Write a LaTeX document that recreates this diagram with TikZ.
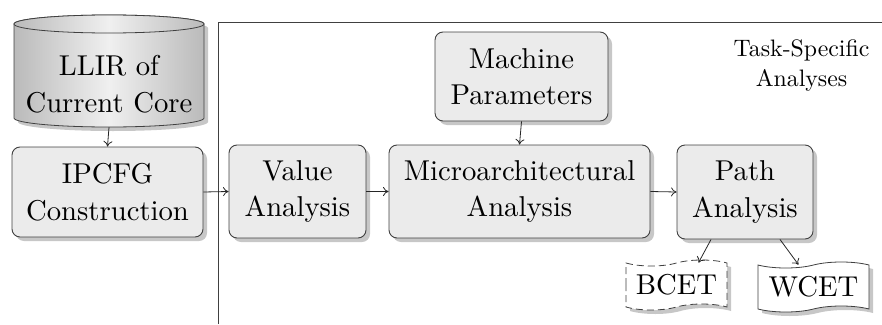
\documentclass[tikz,border=0pt]{standalone}
\usepackage{fontspec}
\setmainfont{lmroman10-regular.otf}
\usetikzlibrary{shapes.geometric,shapes.symbols,shadows,arrows.meta,calc}
\newcommand{\bigfont}{\fontsize{28.7}{36.5}\selectfont}
\newcommand{\smallerfont}{\fontsize{23.8}{30}\selectfont}
\begin{document}
\begin{tikzpicture}[x=1pt,y=-1pt,
  shadowed/.style={drop shadow={shadow xshift=4pt,shadow yshift=-4pt,fill=black!22,opacity=1}},
  box/.style={draw=black!75,line width=0.9pt,fill=black!8,rounded corners=8pt,align=center,
    font=\bigfont,inner sep=0pt,shadowed},
  doc/.style={tape,draw=black!75,line width=0.8pt,fill=white,align=center,font=\bigfont,
    inner xsep=9pt,inner ysep=4pt,minimum height=50pt,tape bend height=6pt,shadowed},
  conn/.style={draw=black!85,line width=0.8pt,-{To[length=5.5pt,width=9pt]}},
  frame/.style={draw=black!75,line width=0.8pt},
  cylshade/.style={left color=black!27,right color=black!27,middle color=black!6},
  cyledge/.style={draw=black!75,line width=0.8pt}]
\useasboundingbox (0,0) rectangle (882,324);

% cylinder (drawn directly)
\fill[black!22] (18,28) -- (18,122) arc[start angle=180,end angle=360,x radius=95pt,y radius=9pt]
  -- (208,28) arc[start angle=0,end angle=180,x radius=95pt,y radius=9pt] -- cycle;
\path[cylshade,cyledge] (14,24) -- (14,118) arc[start angle=180,end angle=360,x radius=95pt,y radius=9pt]
  -- (204,24) arc[start angle=0,end angle=180,x radius=95pt,y radius=9pt] -- cycle;
\path[cylshade,cyledge] (109,24) ellipse[x radius=95pt,y radius=9pt];
\node[minimum width=190pt,minimum height=112pt,inner sep=0pt] (llir) at (109,71) {};
\node[align=center,font=\bigfont,inner sep=0pt] (llirtext) at (109,84) {LLIR of\\Current Core};

\node[box,minimum width=191pt,minimum height=90pt] (ipcfg) at (107.5,192) {IPCFG\\Construction};
\node[box,minimum width=137pt,minimum height=93pt] (value) at (297.5,191.5) {Value\\Analysis};
\node[box,minimum width=261pt,minimum height=93pt] (micro) at (519.5,191.5) {Microarchitectural\\Analysis};
\node[box,minimum width=173pt,minimum height=89pt] (machine) at (521.5,76.5) {Machine\\Parameters};
\node[box,minimum width=136pt,minimum height=94pt] (path) at (745,192) {Path\\Analysis};

\node[doc,dash pattern=on 7pt off 4pt,minimum width=101pt] (bcet) at (676.5,285) {BCET};
\node[doc,minimum width=111pt] (wcet) at (813.5,287) {WCET};

\node[align=center,font=\smallerfont,inner sep=0pt] (task) at (801.5,66) {Task-Specific\\Analyses};

\coordinate (fb) at (218,324);
\coordinate (fc) at (218,22);
\coordinate (fr) at (882,22);
\draw[frame] (fb) -- (fc) -- (fr);

\draw[conn] (llir.south) -- (ipcfg.north);
\draw[conn] (ipcfg.east) -- (value.west);
\draw[conn] (value.east) -- (micro.west);
\draw[conn] (micro.east) -- (path.west);
\draw[conn] (machine.south) -- (micro.north);
\draw[conn] ([xshift=-34pt]path.south) -- ([xshift=22pt]bcet.north);
\draw[conn] ([xshift=35pt]path.south) -- ([xshift=-15pt]wcet.north);
\end{tikzpicture}
\end{document}
